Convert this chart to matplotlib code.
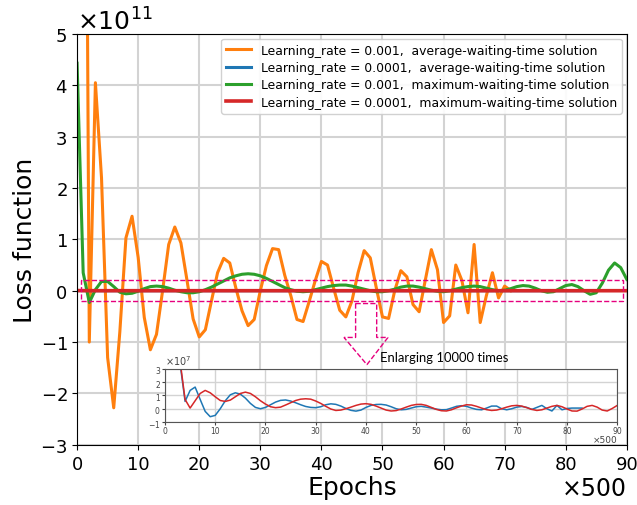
import numpy as np
import matplotlib.pyplot as plt
from matplotlib.ticker import ScalarFormatter
from matplotlib.patches import Rectangle, Polygon

# epochs are in units of 500
# orange: lr=0.001, average-waiting-time (x 1e11)
x_avg1 = list(range(1, 72))
y_avg1 = [20.0, -1.0, 4.05, 2.2, -1.3, -2.28, -0.8, 1.03, 1.45, 0.65,
          -0.52, -1.15, -0.85, 0.0, 0.9, 1.24, 0.93, 0.2, -0.55, -0.9,
          -0.76, -0.2, 0.35, 0.63, 0.54, 0.05, -0.39, -0.68, -0.56, 0.0,
          0.49, 0.82, 0.8, 0.3, -0.1, -0.56, -0.6, -0.21, 0.2, 0.57,
          0.5, 0.05, -0.38, -0.51, -0.2, 0.35, 0.78, 0.64, 0.05, -0.51,
          -0.54, 0.0, 0.39, 0.27, -0.27, -0.41, 0.2, 0.8, 0.41, -0.62,
          -0.49, 0.5, 0.2, -0.43, 0.9, -0.62, -0.1, 0.35, -0.14, 0.09,
          0.0]

# green: lr=0.001, maximum-waiting-time (x 1e11)
x_max1 = list(range(0, 91))
y_max1 = [4.43, 0.35, -0.23, 0.02, 0.18, 0.18, 0.08, -0.03, -0.06, -0.05,
          -0.01, 0.04, 0.08, 0.09, 0.08, 0.05, 0.01, -0.02, -0.04, -0.04,
          -0.02, 0.02, 0.07, 0.13, 0.19, 0.25, 0.29, 0.32, 0.33, 0.32,
          0.29, 0.24, 0.18, 0.12, 0.06, 0.02, -0.01, -0.02, -0.01, 0.02,
          0.05, 0.08, 0.1, 0.11, 0.11, 0.09, 0.06, 0.03, 0.0, -0.02,
          -0.02, 0.0, 0.03, 0.07, 0.09, 0.09, 0.07, 0.04, 0.01, -0.01,
          -0.02, 0.0, 0.03, 0.06, 0.08, 0.09, 0.08, 0.05, 0.02, 0.0,
          0.01, 0.04, 0.08, 0.1, 0.09, 0.05, 0.0, -0.03, -0.02, 0.04,
          0.1, 0.12, 0.08, 0.0, -0.07, -0.04, 0.15, 0.4, 0.54, 0.45,
          0.22]

# blue: lr=0.0001, average-waiting-time (x 1e7)
x_avg2 = list(range(0, 84))
y_avg2 = [30, 15, 8, 3.4, 0.55, 1.38, 1.63, 0.7, -0.2, -0.6,
          -0.5, 0.0, 0.6, 1.05, 1.2, 1.1, 0.8, 0.4, 0.1, 0.0,
          0.1, 0.3, 0.5, 0.63, 0.66, 0.58, 0.45, 0.3, 0.17, 0.1,
          0.08, 0.15, 0.3, 0.37, 0.33, 0.2, 0.02, -0.12, -0.18, -0.1,
          0.1, 0.25, 0.32, 0.33, 0.28, 0.15, 0.0, -0.08, -0.05, 0.05,
          0.15, 0.18, 0.12, 0.05, -0.03, -0.08, -0.07, 0.05, 0.18, 0.23,
          0.18, 0.05, -0.05, -0.08, 0.05, 0.2, 0.2, 0.0, -0.08, 0.0,
          0.12, 0.17, 0.1, -0.05, 0.1, 0.25, 0.0, -0.17, 0.25, -0.08,
          0.02, 0.05, 0.05, 0.05]

# red: lr=0.0001, maximum-waiting-time (x 1e7)
x_max2 = list(range(0, 91))
y_max2 = [30, 15, 8, 3.6, 0.7, 0.05, 0.6, 1.15, 1.38, 1.2,
          0.9, 0.62, 0.55, 0.65, 0.9, 1.15, 1.25, 1.15, 0.9, 0.6,
          0.35, 0.15, 0.08, 0.12, 0.28, 0.45, 0.62, 0.72, 0.75, 0.72,
          0.58, 0.4, 0.18, -0.02, -0.13, -0.1, 0.0, 0.12, 0.25, 0.35,
          0.38, 0.33, 0.2, 0.05, -0.1, -0.17, -0.14, -0.02, 0.12, 0.25,
          0.32, 0.33, 0.25, 0.1, -0.05, -0.15, -0.17, -0.08, 0.07, 0.2,
          0.3, 0.28, 0.18, 0.05, -0.07, -0.13, -0.1, 0.0, 0.12, 0.22,
          0.25, 0.2, 0.08, -0.05, -0.13, -0.08, 0.05, 0.18, 0.25, 0.15,
          -0.02, -0.17, -0.18, -0.02, 0.18, 0.25, 0.12, -0.1, -0.17, 0.02,
          0.25]

labels = ['Learning_rate = 0.001,  average-waiting-time solution',
          'Learning_rate = 0.0001,  average-waiting-time solution',
          'Learning_rate = 0.001,  maximum-waiting-time solution',
          'Learning_rate = 0.0001,  maximum-waiting-time solution']

ya1 = np.array(y_avg1) * 1e11
ym1 = np.array(y_max1) * 1e11
ya2 = np.array(y_avg2) * 1e7
ym2 = np.array(y_max2) * 1e7

fig = plt.figure(figsize=(6.37, 5.06), dpi=100)
ax = fig.add_axes([0.121, 0.119, 0.863, 0.812])

ax.plot(x_avg1, ya1, color='#ff7f0e', lw=2.2, label=labels[0])
ax.plot(x_avg2, ya2, color='#1f77b4', lw=2.2, label=labels[1])
ax.plot(x_max1, ym1, color='#2ca02c', lw=2.2, label=labels[2])
ax.plot(x_max2, ym2, color='#d62728', lw=2.6, label=labels[3])

ax.set_xlim(0, 90)
ax.set_ylim(-3e11, 5e11)
ax.set_xticks(range(0, 91, 10))
ax.set_yticks(np.arange(-3, 6) * 1e11)
fmt = ScalarFormatter(useMathText=True)
fmt.set_powerlimits((0, 0))
ax.yaxis.set_major_formatter(fmt)
ax.yaxis.get_offset_text().set_fontsize(18)
ax.tick_params(labelsize=13)
ax.grid(color='#d3d3d3', lw=1.5)
ax.set_axisbelow(True)
ax.set_xlabel('Epochs', fontsize=18, labelpad=2)
ax.set_ylabel('Loss function', fontsize=18, labelpad=2)
ax.text(1.0, -0.075, '×500', transform=ax.transAxes, fontsize=17,
        ha='right', va='top')

leg = ax.legend(loc='upper right', fontsize=8.9, framealpha=0.9,
                borderaxespad=0.4, labelspacing=0.35)

# zoom box and arrow
pink = '#e6007e'
ax.add_patch(Rectangle((0.7, -0.2e11), 88.6, 0.4e11, fill=False,
                       edgecolor=pink, ls='--', lw=1.0, zorder=5))
arrow = np.array([[45.6, -0.25], [49.05, -0.25], [49.05, -0.91],
                  [50.9, -0.91], [47.45, -1.44], [43.7, -0.91],
                  [45.6, -0.91]])
arrow[:, 1] *= 1e11
ax.add_patch(Polygon(arrow, closed=True, fill=False, edgecolor=pink,
                     ls='--', lw=1.0, zorder=5))
ax.text(49.6, -1.3e11, 'Enlarging 10000 times', fontsize=9.4,
        family='Lato', va='center', ha='left')

# inset
axi = fig.add_axes([0.259, 0.164, 0.710, 0.105])
axi.plot(x_avg2, ya2, color='#1f77b4', lw=1.1)
axi.plot(x_max2, ym2, color='#d62728', lw=1.1)
axi.set_xlim(0, 90)
axi.set_ylim(-1e7, 3e7)
axi.set_xticks(range(0, 91, 10))
axi.set_yticks(np.arange(-1, 4) * 1e7)
fmt2 = ScalarFormatter(useMathText=True)
fmt2.set_powerlimits((0, 0))
axi.yaxis.set_major_formatter(fmt2)
axi.yaxis.get_offset_text().set_fontsize(7)
axi.tick_params(labelsize=5.5, length=2, pad=1, colors='#444444')
axi.grid(color='#d3d3d3', lw=1.0)
axi.set_axisbelow(True)
for s in axi.spines.values():
    s.set_color('#555555')
    s.set_linewidth(0.8)
axi.text(1.0, -0.24, '×500', transform=axi.transAxes, fontsize=6.5,
         ha='right', va='top', color='#444444')

plt.savefig('out.png', dpi=100)
